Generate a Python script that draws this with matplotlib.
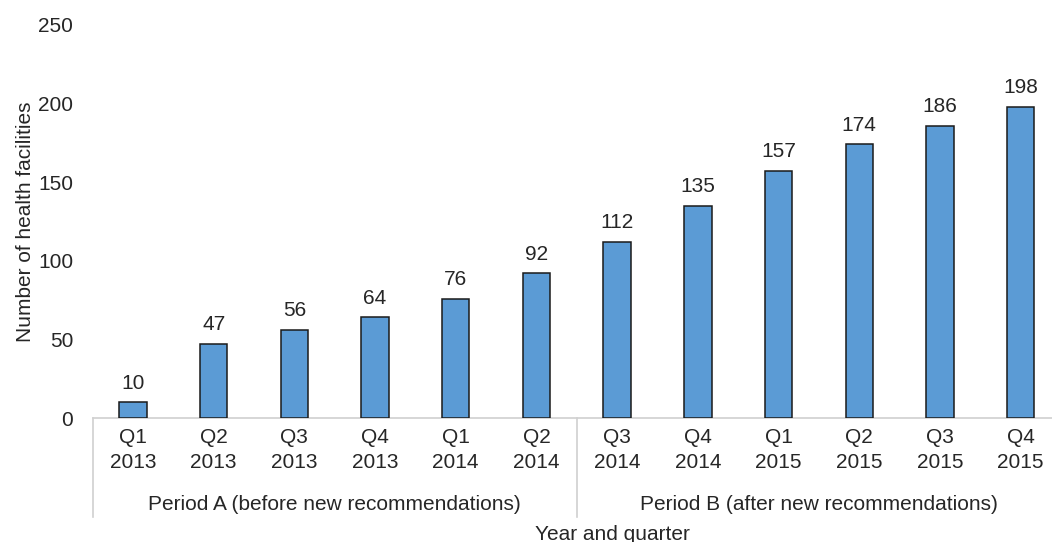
import numpy as np
import matplotlib.pyplot as plt

plt.rcParams['font.family'] = ['Liberation Sans', 'DejaVu Sans']

quarters = ['Q1', 'Q2', 'Q3', 'Q4', 'Q1', 'Q2', 'Q3', 'Q4', 'Q1', 'Q2', 'Q3', 'Q4']
years = ['2013', '2013', '2013', '2013', '2014', '2014', '2014', '2014', '2015', '2015', '2015', '2015']
counts = [10, 47, 56, 64, 76, 92, 112, 135, 157, 174, 186, 198]
periods = ['Period A (before new recommendations)', 'Period B (after new recommendations)']
period_sizes = [6, 6]

W, H = 1052, 542
FS = 15
fig = plt.figure(figsize=(W / 100, H / 100), dpi=100)
ax = fig.add_axes([92.6 / W, 124 / H, (1061 - 92.6) / W, (418 - 25) / H])

x = np.arange(len(counts))
bars = ax.bar(x, counts, width=0.34, color='#5b9bd5', edgecolor='#1a1a1a', linewidth=1.1, zorder=3)
for xi, v in zip(x, counts):
    ax.annotate(str(v), (xi, v), xytext=(0, 7), textcoords='offset points',
                ha='center', va='bottom', fontsize=FS, color='#262626')

ax.set_xlim(-0.5, len(counts) - 0.5)
ax.set_ylim(0, 250)
ax.set_yticks([0, 50, 100, 150, 200, 250])
ax.tick_params(axis='y', length=0, labelsize=FS, colors='#262626', pad=14)
ax.set_xticks(x)
ax.set_xticklabels([f'{q}\n{y}' for q, y in zip(quarters, years)], fontsize=FS,
                   color='#262626', linespacing=1.4)
ax.tick_params(axis='x', length=0, pad=7)
for s in ['top', 'right', 'left']:
    ax.spines[s].set_visible(False)
ax.spines['bottom'].set_color('#d0d0d0')
ax.spines['bottom'].set_linewidth(1.2)

# group separators and period labels
trans = ax.get_xaxis_transform()
edges = [-0.5]
for n in period_sizes:
    edges.append(edges[-1] + n)
line_len = (418 - 517) / (418 - 25)
for e in edges:
    ax.plot([e, e], [0, line_len], transform=trans, color='#d0d0d0', lw=1.2, clip_on=False)
for i, p in enumerate(periods):
    mid = (edges[i] + edges[i + 1]) / 2
    ax.text(mid, (418 - 505) / (418 - 25), p, transform=trans, ha='center', va='center',
            fontsize=FS, color='#262626')

ax.set_ylabel('Number of health facilities', fontsize=FS, color='#262626', labelpad=2)
fig.text(612 / W, 1 - 535 / H, 'Year and quarter', ha='center', va='center',
         fontsize=FS, color='#262626')

fig.savefig('out.png', dpi=100)
